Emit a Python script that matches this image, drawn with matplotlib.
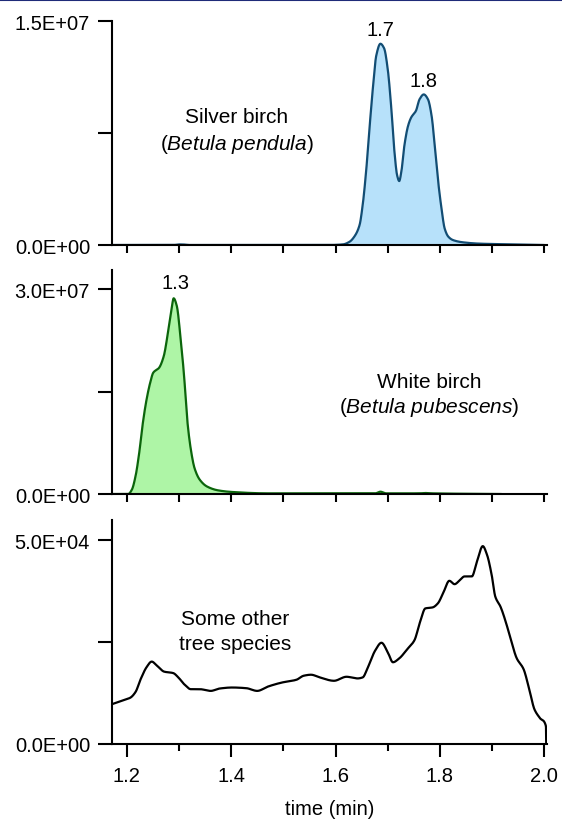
import numpy as np
import matplotlib.pyplot as plt
from matplotlib.lines import Line2D
from matplotlib.ticker import MultipleLocator

plt.rcParams['font.family'] = ['Liberation Sans', 'DejaVu Sans']
plt.rcParams['mathtext.fontset'] = 'custom'
plt.rcParams['mathtext.rm'] = 'Liberation Sans'
plt.rcParams['mathtext.it'] = 'Liberation Sans:italic'

# silver birch (Betula pendula)
t_silver = [1.171, 1.29, 1.30, 1.31, 1.32, 1.588, 1.614, 1.627, 1.636, 1.646, 1.652, 1.659, 1.665,
            1.672, 1.678, 1.686, 1.693, 1.700, 1.707, 1.713, 1.718, 1.722, 1.726,
            1.732, 1.739, 1.745, 1.754, 1.761, 1.769, 1.777, 1.784, 1.790, 1.796,
            1.803, 1.809, 1.816, 1.825, 1.844, 1.876, 1.94, 1.998]
y_silver = [0, 0, 4e4, 3e4, 0, 0, 4e4, 2.2e5, 5.6e5, 1.33e6, 2.67e6, 5.1e6, 7.8e6,
            1.07e7, 1.27e7, 1.35e7, 1.32e7, 1.18e7, 9.1e6, 6.2e6, 4.67e6, 4.29e6, 4.9e6,
            6.7e6, 8.0e6, 8.56e6, 9.0e6, 9.78e6, 1.01e7, 9.78e6, 8.67e6, 6.67e6, 4.44e6,
            2.44e6, 1.11e6, 5.6e5, 3.3e5, 1.8e5, 9e4, 4e4, 0]

# white birch (Betula pubescens)
t_white = [1.171, 1.203, 1.210, 1.217, 1.224, 1.231, 1.238, 1.245, 1.251, 1.262, 1.271,
           1.279, 1.286, 1.290, 1.296, 1.303, 1.310, 1.316, 1.323, 1.330, 1.340,
           1.354, 1.375, 1.402, 1.47, 1.676, 1.686, 1.697, 1.76, 1.772, 1.785, 1.916]
y_white = [0, 0, 6.4e5, 2.6e6, 6.0e6, 1.04e7, 1.38e7, 1.63e7, 1.78e7, 1.85e7, 2.02e7,
           2.36e7, 2.71e7, 2.87e7, 2.76e7, 2.31e7, 1.73e7, 1.09e7, 6.5e6, 3.8e6, 2.1e6,
           1.1e6, 5.4e5, 3e5, 1e5, 1e5, 3.4e5, 1e5, 1e5, 1.5e5, 1e5, 0]

# some other tree species
t_other = [1.171, 1.190, 1.207, 1.217, 1.227, 1.238, 1.248, 1.258, 1.272, 1.289, 1.299,
           1.310, 1.323, 1.340, 1.361, 1.378, 1.402, 1.429, 1.450, 1.471, 1.498, 1.525,
           1.539, 1.553, 1.570, 1.597, 1.621, 1.642, 1.652, 1.662, 1.676, 1.688, 1.700,
           1.710, 1.721, 1.738, 1.751, 1.762, 1.772, 1.786, 1.796, 1.806, 1.818, 1.828,
           1.837, 1.847, 1.861, 1.871, 1.882, 1.890, 1.899, 1.906, 1.916, 1.926, 1.937,
           1.947, 1.960, 1.971, 1.981, 1.991, 2.003, 2.0035]
y_other = [9670, 10500, 11300, 12700, 15900, 18760, 20160, 19170, 17690, 17350, 16280,
           14630, 13390, 13390, 12970, 13550, 13800, 13640, 12970, 14050, 15040, 15700,
           16690, 16940, 16280, 15450, 16440, 16030, 16280, 18760, 22890, 24790, 22480,
           20000, 20830, 23300, 25370, 29920, 33220, 33470, 34460, 36940, 40000, 39170,
           40000, 41070, 41070, 44790, 48510, 46440, 41490, 36110, 33630, 29920, 24960,
           20990, 18350, 13390, 8430, 6360, 4300, 0]

x_ticks = [1.2, 1.4, 1.6, 1.8, 2.0]
x_labels = ['1.2', '1.4', '1.6', '1.8', '2.0']
y_tops = [1.5e7, 3.0e7, 5.0e4]
y_top_labels = ['1.5E+07', '3.0E+07', '5.0E+04']


def pchip(t, y, n=2000):
    # monotone cubic (Fritsch-Carlson) through the read-off points
    x = np.asarray(t, float)
    y = np.asarray(y, float)
    hk = np.diff(x)
    dk = np.diff(y) / hk
    m = np.zeros_like(y)
    m[0], m[-1] = dk[0], dk[-1]
    for k in range(1, len(x) - 1):
        if dk[k - 1] * dk[k] > 0:
            w1 = 2 * hk[k] + hk[k - 1]
            w2 = hk[k] + 2 * hk[k - 1]
            m[k] = (w1 + w2) / (w1 / dk[k - 1] + w2 / dk[k])
    xx = np.linspace(x[0], x[-1], n)
    idx = np.clip(np.searchsorted(x, xx) - 1, 0, len(x) - 2)
    h = hk[idx]
    s = (xx - x[idx]) / h
    h00 = 2 * s**3 - 3 * s**2 + 1
    h10 = s**3 - 2 * s**2 + s
    h01 = -2 * s**3 + 3 * s**2
    h11 = s**3 - s**2
    yy = h00 * y[idx] + h10 * h * m[idx] + h01 * y[idx + 1] + h11 * h * m[idx + 1]
    return xx, yy


fig = plt.figure(figsize=(5.62, 8.2), dpi=100)
left, width, h = 0.1998, 0.7735, 0.2727
bottoms = [0.7000, 0.3963, 0.0918]
axes = [fig.add_axes([left, b, width, h]) for b in bottoms]

fs_tick = 14.5
fs_note = 15

ylims = [1.5e7, 3.279e7, 5.49e4]
for i, ax in enumerate(axes):
    ax.set_xlim(1.1725, 2.005)
    ax.set_ylim(0, ylims[i])
    for s in ['top', 'right']:
        ax.spines[s].set_visible(False)
    for s in ['left', 'bottom']:
        ax.spines[s].set_linewidth(1.5)
    ax.set_yticks([0, y_tops[i] / 2, y_tops[i]])
    ax.set_yticklabels(['0.0E+00', '', y_top_labels[i]])
    ax.tick_params(axis='y', length=10, width=1.5, pad=6, labelsize=fs_tick)
    ax.xaxis.set_major_locator(MultipleLocator(0.2))
    ax.xaxis.set_minor_locator(MultipleLocator(0.1))
    if i < 2:
        ax.tick_params(axis='x', which='both', length=6, width=1.5, labelbottom=False)
    else:
        ax.set_xticks(x_ticks)
        ax.set_xticklabels(x_labels)
        ax.tick_params(axis='x', which='major', length=9, width=1.5, pad=7, labelsize=fs_tick)
        ax.tick_params(axis='x', which='minor', length=5, width=1.5)

ax1, ax2, ax3 = axes

tt, yy = pchip(t_silver, y_silver)
ax1.fill_between(tt, 0, yy, color='#b7e1fa', lw=0)
ax1.plot(tt, yy, color='#124d74', lw=1.6)
ax1.text(1.686, 1.444e7, '1.7', ha='center', va='center', fontsize=fs_tick)
ax1.text(1.769, 1.103e7, '1.8', ha='center', va='center', fontsize=fs_tick)
ax1.text(1.411, 8.59e6, 'Silver birch', ha='center', va='center', fontsize=fs_note)
ax1.text(1.411, 6.79e6, '($\\mathit{Betula\\ pendula}$)', ha='center', va='center', fontsize=fs_note)

tt, yy = pchip(t_white, y_white)
ax2.fill_between(tt, 0, yy, color='#aef5a6', lw=0)
ax2.plot(tt, yy, color='#0b650b', lw=1.6)
ax2.text(1.2945, 3.109e7, '1.3', ha='center', va='center', fontsize=fs_tick)
ax2.text(1.779, 1.654e7, 'White birch', ha='center', va='center', fontsize=fs_note)
ax2.text(1.779, 1.287e7, '($\\mathit{Betula\\ pubescens}$)', ha='center', va='center', fontsize=fs_note)

tt, yy = pchip(t_other, y_other)
ax3.plot(tt, yy, color='black', lw=1.6)
ax3.text(1.407, 3.074e4, 'Some other', ha='center', va='center', fontsize=fs_note)
ax3.text(1.407, 2.454e4, 'tree species', ha='center', va='center', fontsize=fs_note)
ax3.set_xlabel('time (min)', fontsize=fs_tick, labelpad=10)

fig.add_artist(Line2D([0, 1], [0.9985, 0.9985], transform=fig.transFigure,
                      color='#1f2b78', lw=1.5))

plt.savefig('out.png', dpi=100)
